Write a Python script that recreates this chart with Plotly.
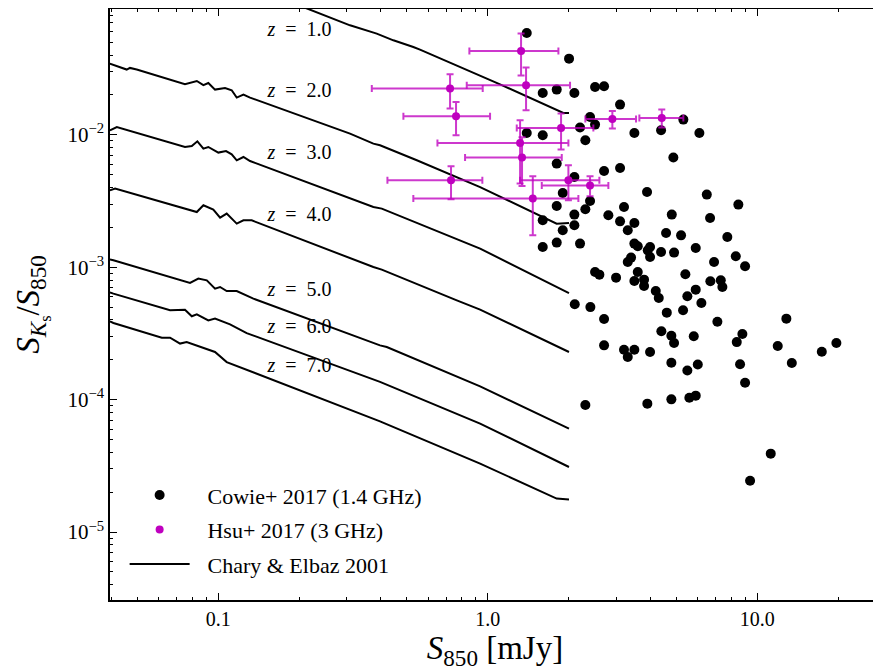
import math
import plotly.graph_objects as go

# ---------------- data ----------------
cowie_x = [1.394, 2.001, 1.598, 1.801, 2.094, 2.499, 2.699, 3.094, 2.394, 2.499,
           2.198, 3.496, 4.392, 5.313, 6.093, 1.394, 1.598, 2.300, 4.879, 1.801,
           2.699, 3.094, 2.094, 1.896, 2.394, 1.801, 2.300, 2.094, 3.896, 6.492,
           3.200, 2.800, 1.598, 3.094, 3.496, 4.813, 6.676, 1.896, 2.094, 3.304,
           4.584, 5.210, 1.598, 1.801, 2.198, 3.496, 3.599, 3.920, 3.998, 4.392,
           4.908, 5.906, 7.737, 3.998, 3.304, 3.399, 6.907, 8.500, 8.316, 9.003,
           2.499, 2.593, 2.990, 3.599, 3.496, 3.798, 3.798, 5.405, 5.906, 6.692,
           7.315, 7.416, 4.198, 4.307, 5.498, 6.198, 4.612, 5.300, 7.106, 2.101,
           2.401, 2.699, 4.403, 4.796, 4.908, 5.808, 8.796, 8.387, 12.81, 11.90,
           19.64, 17.34, 13.42, 2.699, 3.200, 3.496, 3.304, 3.998, 4.796, 5.498,
           6.011, 8.626, 9.003, 2.300, 3.906, 4.796, 5.592, 5.906, 11.21, 9.396]
cowie_y = [0.0587, 0.0376, 0.0207, 0.02195, 0.0207, 0.02296, 0.02325, 0.0169, 0.01363, 0.01194,
           0.01134, 0.01032, 0.01081, 0.01302, 0.01032, 0.01032, 0.00991, 0.00909, 0.00673, 0.00606,
           0.00533, 0.00561, 0.0048, 0.003634, 0.003162, 0.0029, 0.002737, 0.002496, 0.0037, 0.003535,
           0.00285, 0.002466, 0.00226, 0.00222, 0.002157, 0.002496, 0.002352, 0.0019, 0.002072, 0.0019,
           0.001813, 0.00174, 0.00142, 0.001534, 0.001508, 0.001508, 0.001438, 0.001341, 0.00142, 0.001302,
           0.001289, 0.001396, 0.00169, 0.001194, 0.001094, 0.001182, 0.001094, 0.002971, 0.001209, 0.001016,
           0.00092, 0.000879, 0.000834, 0.00092, 0.000787, 0.000806, 0.000721, 0.000884, 0.000677, 0.000783,
           0.000796, 0.000709, 0.000661, 0.000585, 0.000603, 0.000537, 0.000454, 0.000473, 0.000388, 0.000525,
           0.0005, 0.000406, 0.000328, 0.000304, 0.000268, 0.000301, 0.000313, 0.000272, 0.000409, 0.000254,
           0.000268, 0.00023, 0.000189, 0.000257, 0.000238, 0.000238, 0.00021, 0.000229, 0.00019, 0.000166,
           0.000184, 0.000185, 0.000134, 0.000091, 0.0000933, 0.0001005, 0.0001035, 0.0001072, 0.0000391, 0.0000244]

hsu_x = [1.328, 0.724, 1.386, 0.762, 1.869, 2.897, 4.419, 1.317, 1.339, 0.730, 1.468, 1.99, 2.394]
hsu_xlo = [0.854, 0.371, 0.835, 0.486, 1.280, 2.300, 3.649, 0.650, 0.823, 0.424, 0.529, 1.317, 1.585]
hsu_xhi = [1.827, 0.957, 2.018, 1.019, 2.463, 3.547, 5.313, 1.99, 1.880, 0.954, 2.167, 2.593, 2.800]
hsu_y = [0.0429, 0.02234, 0.02365, 0.01379, 0.01126, 0.01316, 0.01339, 0.00867, 0.00673, 0.00453, 0.0033, 0.00453, 0.00415]
hsu_ylo = [0.0281, 0.01577, 0.01531, 0.00991, 0.00773, 0.01114, 0.01134, 0.00428, 0.0041, 0.00326, 0.00174, 0.0032, 0.00343]
hsu_yhi = [0.0581, 0.02864, 0.0322, 0.01769, 0.01446, 0.01513, 0.0155, 0.01287, 0.00957, 0.00578, 0.00486, 0.00588, 0.00486]

# Chary & Elbaz 2001 tracks
z1_x = [0.131, 0.2134, 0.308, 0.387, 0.446, 0.529, 0.560, 1.110, 1.906, 2.0]
z1_y = [0.1324, 0.0902, 0.0671, 0.0581, 0.0517, 0.0460, 0.0440, 0.02406, 0.01462, 0.01462]
z2_x = [0.0396, 0.0457, 0.0470, 0.0498, 0.0752, 0.0832, 0.0880, 0.0918, 0.0972, 0.1059, 0.1121,
        0.1170, 0.1239, 0.1311, 0.308, 0.376, 0.398, 0.545, 0.936, 1.80, 2.0]
z2_y = [0.0345, 0.0311, 0.0320, 0.0311, 0.0241, 0.0255, 0.0237, 0.0246, 0.02195, 0.02257, 0.02168,
        0.0191, 0.0201, 0.0191, 0.01021, 0.00858, 0.00833, 0.00642, 0.00403, 0.002134, 0.002157]
z3_x = [0.0396, 0.0420, 0.0752, 0.0797, 0.0836, 0.0880, 0.0918, 0.100, 0.1068, 0.1121, 0.1170,
        0.1239, 0.1311, 0.376, 0.404, 0.936, 2.0]
z3_y = [0.01081, 0.01145, 0.00809, 0.00823, 0.00893, 0.00787, 0.00809, 0.00734, 0.00754, 0.00712, 0.00642,
        0.00680, 0.00634, 0.00285, 0.00277, 0.001382, 0.000638]
z4_x = [0.0396, 0.0414, 0.0832, 0.0880, 0.0958, 0.1015, 0.1074, 0.1170, 0.1239, 0.1330, 0.376, 0.404,
        0.767, 0.936, 2.0]
z4_y = [0.00381, 0.00393, 0.00261, 0.002935, 0.002723, 0.002369, 0.00254, 0.002134, 0.00226, 0.00226,
        0.001003, 0.000959, 0.000562, 0.000478, 0.000229]
z5_x = [0.0396, 0.0408, 0.0785, 0.0843, 0.0906, 0.0972, 0.1015, 0.1074, 0.1170, 0.1349, 0.398, 0.4216,
        0.936, 2.0]
z5_y = [0.001147, 0.001128, 0.00076, 0.00082, 0.000796, 0.000689, 0.000709, 0.000661, 0.000661, 0.000579,
        0.000257, 0.0002496, 0.000126, 0.0000604]
z6_x = [0.0396, 0.0408, 0.0662, 0.0752, 0.0797, 0.0832, 0.0918, 0.0972, 0.1105, 0.1274, 0.398, 0.936, 2.0]
z6_y = [0.000646, 0.000632, 0.000473, 0.000478, 0.000426, 0.000441, 0.000397, 0.000409, 0.00037, 0.000318,
        0.0001363, 0.0000659, 0.000031]
z7_x = [0.0396, 0.0408, 0.0617, 0.0662, 0.0721, 0.0763, 0.0972, 0.1074, 0.398, 0.936, 1.80, 2.0]
z7_y = [0.00039, 0.000379, 0.000294, 0.000294, 0.000265, 0.000272, 0.000229, 0.000192, 0.0000686,
        0.0000329, 0.0000179, 0.0000176]

z_labels = ["1.0", "2.0", "3.0", "4.0", "5.0", "6.0", "7.0"]
z_label_x = [0.200, 0.200, 0.200, 0.200, 0.200, 0.200, 0.200]
z_label_y = [0.0605, 0.02094, 0.00712, 0.002423, 0.000658, 0.000345, 0.0001754]

x_major = [0.1, 1.0, 10.0]
x_major_text = ["0.1", "1.0", "10.0"]
y_major = [1e-5, 1e-4, 1e-3, 1e-2]
y_major_text = ["10<sup>−5</sup>", "10<sup>−4</sup>", "10<sup>−3</sup>", "10<sup>−2</sup>"]

# ---------------- figure ----------------
FONT = "'Liberation Serif', 'Times New Roman', serif"
MAG = "#bf00bf"
SP = "\u2002"
LEAD = "\u2002\u200a"
fig = go.Figure()

curves = [(z1_x, z1_y), (z2_x, z2_y), (z3_x, z3_y), (z4_x, z4_y),
          (z5_x, z5_y), (z6_x, z6_y), (z7_x, z7_y)]
for i, (cx, cy) in enumerate(curves):
    fig.add_trace(go.Scatter(
        x=cx, y=cy, mode="lines", line=dict(color="black", width=2),
        name=LEAD + "Chary &amp; Elbaz 2001", showlegend=(i == 0),
        legendgroup="c", legendrank=3, hoverinfo="skip"))

fig.add_trace(go.Scatter(
    x=cowie_x, y=cowie_y, mode="markers",
    marker=dict(color="black", size=10),
    name=LEAD + "Cowie+ 2017 (1.4 GHz)", legendgroup="a", legendrank=1))

fig.add_trace(go.Scatter(
    x=hsu_x, y=hsu_y, mode="markers",
    marker=dict(color=MAG, size=8),
    error_x=dict(type="data", symmetric=False,
                 array=[h - v for h, v in zip(hsu_xhi, hsu_x)],
                 arrayminus=[v - l for v, l in zip(hsu_x, hsu_xlo)],
                 color="rgba(191,0,191,0.78)", thickness=2, width=3.5),
    error_y=dict(type="data", symmetric=False,
                 array=[h - v for h, v in zip(hsu_yhi, hsu_y)],
                 arrayminus=[v - l for v, l in zip(hsu_y, hsu_ylo)],
                 color="rgba(191,0,191,0.78)", thickness=2, width=3.5),
    name=LEAD + "Hsu+ 2017 (3 GHz)", legendgroup="b", legendrank=2))

fig.add_trace(go.Scatter(
    x=z_label_x, y=z_label_y, mode="text",
    text=["<i>z</i>" + SP + "=" + SP + s for s in z_labels],
    textfont=dict(family=FONT, size=20, color="black"),
    showlegend=False, hoverinfo="skip"))

x_minor = [a * 10 ** e for e in (-2, -1, 0, 1) for a in range(2, 10)]
y_minor = [a * 10 ** e for e in (-6, -5, -4, -3, -2) for a in range(2, 10)]

axis_common = dict(
    showgrid=False, zeroline=False, showline=True, linecolor="black", linewidth=1.5,
    ticks="inside", ticklen=7, tickwidth=1.2, tickcolor="black", automargin=False,
)

fig.update_xaxes(
    type="log", range=[-1.402, 1.455], mirror="ticks",
    tickvals=x_major, ticktext=x_major_text,
    tickfont=dict(family=FONT, size=20, color="black"),
    minor=dict(tickvals=x_minor, ticks="inside", ticklen=3.5, tickwidth=1, tickcolor="black"),
    title=dict(text="<i>S</i><sub>850</sub> [mJy]", font=dict(family=FONT, size=33, color="black"),
               standoff=9),
    **axis_common)
fig.update_yaxes(
    type="log", range=[-5.513, -1.05], mirror=False,
    tickvals=y_major, ticktext=y_major_text,
    tickfont=dict(family=FONT, size=21, color="black"),
    minor=dict(tickvals=y_minor, ticks="inside", ticklen=3.5, tickwidth=1, tickcolor="black"),
    title=dict(text="<i>S</i><sub><i>K</i><sub>s</sub></sub>/<i>S</i><sub>850</sub>",
               font=dict(family=FONT, size=33, color="black"), standoff=18),
    **axis_common)

# page body has an 8px margin, so the figure is 8px smaller than the window
fig.update_layout(
    width=873, height=663,
    margin=dict(l=102, r=1, t=1, b=71, autoexpand=False),
    paper_bgcolor="white", plot_bgcolor="white",
    font=dict(family=FONT, color="black"),
    legend=dict(x=0.019, y=0.213, xanchor="left", yanchor="top",
                bgcolor="rgba(0,0,0,0)", borderwidth=0,
                font=dict(family=FONT, size=22, color="black"),
                tracegroupgap=3, itemwidth=60),
)

fig.write_html("out.html")
